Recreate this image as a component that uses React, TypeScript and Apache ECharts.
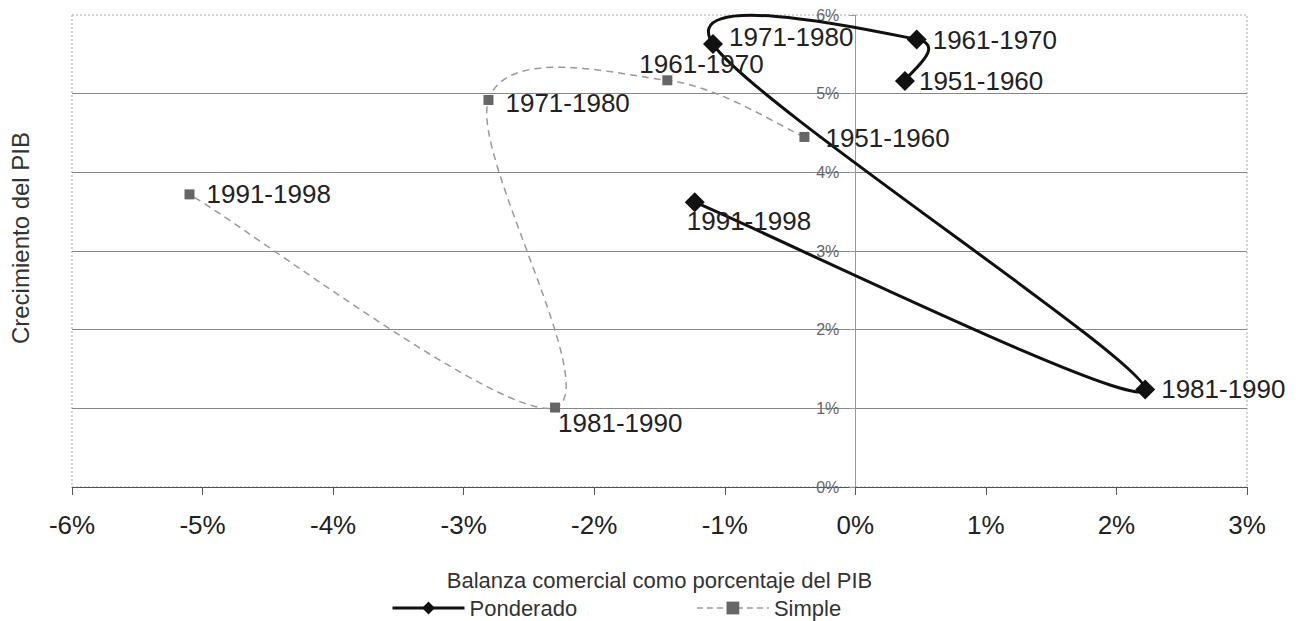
import React, { useEffect, useRef } from "react";
import * as echarts from "echarts";

const decades = ["1951-1960", "1961-1970", "1971-1980", "1981-1990", "1991-1998"];
const ponderadoX = [0.38, 0.47, -1.09, 2.22, -1.23];
const ponderadoY = [5.16, 5.69, 5.63, 1.24, 3.62];
const simpleX = [-0.39, -1.44, -2.81, -2.3, -5.1];
const simpleY = [4.45, 5.17, 4.92, 1.01, 3.72];
const xTicks = { min: -6, max: 3, step: 1 };
const yTicks = { min: 0, max: 6, step: 1 };

const ponderadoLabelOffsets = [[-2, 0], [0, 1], [0, -7], [0, 0], [-24, 19]];
const simpleLabelOffsets = [[4, 1], [-45, -16], [0, 3], [-14, 15], [0, 0]];

const FONT = "'Liberation Sans', Arial, sans-serif";
const PON_COLOR = "#111";
const SIM_LINE = "#9a9a9a";
const SIM_MARK = "#666";

const W = 1299;
const H = 621;
const GRID = { left: 72, right: 52, top: 15, bottom: 134 };

// Excel-like smoothed path (Catmull-Rom -> cubic Bezier, tension 1/6)
function smoothPath(pts: number[][]): string {
  const n = pts.length;
  let d = `M${pts[0][0]},${pts[0][1]}`;
  for (let i = 0; i < n - 1; i++) {
    const p0 = pts[i - 1] || pts[i];
    const p1 = pts[i];
    const p2 = pts[i + 1];
    const p3 = pts[i + 2] || pts[i + 1];
    const c1x = p1[0] + (p2[0] - p0[0]) / 6;
    const c1y = p1[1] + (p2[1] - p0[1]) / 6;
    const c2x = p2[0] - (p3[0] - p1[0]) / 6;
    const c2y = p2[1] - (p3[1] - p1[1]) / 6;
    d += ` C${c1x},${c1y} ${c2x},${c2y} ${p2[0]},${p2[1]}`;
  }
  return d;
}

export default function App() {
  const ref = useRef<HTMLDivElement>(null);
  useEffect(() => {
    if (!ref.current) return;
    const chart = echarts.init(ref.current, undefined, { renderer: "svg" });
    const mk = (xs: number[], ys: number[], offs: number[][]) =>
      xs.map((x, i) => ({
        value: [x, ys[i]],
        name: decades[i],
        label: { offset: offs[i] },
      }));
    const curve = (name: string, xs: number[], ys: number[], style: any) => ({
      name,
      type: "custom",
      data: xs.map((x, i) => [x, ys[i]]),
      encode: { x: 0, y: 1 },
      silent: true,
      z: 1,
      renderItem: (params: any, api: any) => {
        if (params.dataIndex !== 0) return null;
        const pts = xs.map((x, i) => api.coord([x, ys[i]]));
        return {
          type: "path",
          shape: { pathData: smoothPath(pts) },
          style: { fill: "none", ...style },
        };
      },
    });
    const labelCfg = (distance: number) => ({
      show: true,
      position: "right",
      distance,
      formatter: (p: any) => p.name,
      fontSize: 26,
      color: "#222",
      fontFamily: FONT,
    });
    // y axis sits at x = 0: shift it inward from the grid's left edge
    const gridWidth = W - GRID.left - GRID.right;
    const yAxisOffset = -gridWidth * (0 - xTicks.min) / (xTicks.max - xTicks.min);
    chart.setOption({
      animation: false,
      textStyle: { fontFamily: FONT },
      grid: {
        ...GRID,
        show: true,
        borderColor: "#aaa",
        borderWidth: 1,
        borderType: [2, 2],
      },
      xAxis: {
        type: "value",
        min: xTicks.min,
        max: xTicks.max,
        interval: xTicks.step,
        name: "Balanza comercial como porcentaje del PIB",
        nameLocation: "middle",
        nameGap: 82,
        nameTextStyle: { fontSize: 22, color: "#333", fontFamily: FONT },
        axisLine: { onZero: false, lineStyle: { color: "#555", width: 1 } },
        axisTick: { show: true, length: 8, lineStyle: { color: "#555" } },
        axisLabel: {
          fontSize: 26,
          color: "#222",
          margin: 25,
          fontFamily: FONT,
          formatter: (v: number) => `${v}%`,
        },
        splitLine: { show: false },
      },
      yAxis: {
        type: "value",
        min: yTicks.min,
        max: yTicks.max,
        interval: yTicks.step,
        position: "left",
        offset: yAxisOffset,
        axisLine: { show: true, onZero: false, lineStyle: { color: "#999", width: 1 } },
        axisTick: { show: true, length: 6, lineStyle: { color: "#999" } },
        axisLabel: {
          fontSize: 16,
          color: "#666",
          margin: 16,
          fontFamily: FONT,
          formatter: (v: number) => `${v}%`,
        },
        splitLine: { show: true, showMaxLine: false, lineStyle: { color: "#888", width: 1 } },
      },
      legend: {
        left: 386,
        top: 592,
        itemWidth: 72,
        itemHeight: 16,
        itemGap: 119,
        textStyle: { fontSize: 22, color: "#333", fontFamily: FONT },
        data: [
          {
            name: "Ponderado",
            lineStyle: { opacity: 1, color: PON_COLOR, width: 3, type: "solid" },
          },
          {
            name: "Simple",
            lineStyle: { opacity: 1, color: SIM_LINE, width: 1.5, type: [6, 4] },
          },
        ],
      },
      graphic: [
        {
          type: "text",
          x: 20,
          y: 238,
          rotation: Math.PI / 2,
          style: {
            text: "Crecimiento del PIB",
            fontSize: 24,
            fill: "#333",
            fontFamily: FONT,
            align: "center",
            verticalAlign: "middle",
          },
        },
      ],
      series: [
        curve("SimpleCurve", simpleX, simpleY, {
          stroke: SIM_LINE,
          lineWidth: 1.5,
          lineDash: [7, 5],
        }),
        curve("PonderadoCurve", ponderadoX, ponderadoY, {
          stroke: PON_COLOR,
          lineWidth: 3,
        }),
        {
          name: "Simple",
          type: "line",
          data: mk(simpleX, simpleY, simpleLabelOffsets),
          symbol: "rect",
          symbolSize: 10,
          itemStyle: { color: SIM_MARK },
          lineStyle: { opacity: 0, color: SIM_LINE },
          label: labelCfg(12),
          z: 3,
        },
        {
          name: "Ponderado",
          type: "line",
          data: mk(ponderadoX, ponderadoY, ponderadoLabelOffsets),
          symbol: "diamond",
          symbolSize: 20,
          itemStyle: { color: PON_COLOR },
          lineStyle: { opacity: 0, color: PON_COLOR },
          label: labelCfg(6),
          z: 4,
        },
      ],
    });
    return () => chart.dispose();
  }, []);
  return (
    <div
      ref={ref}
      style={{ position: "fixed", left: 0, top: 0, width: W, height: H, background: "#fff" }}
    />
  );
}
